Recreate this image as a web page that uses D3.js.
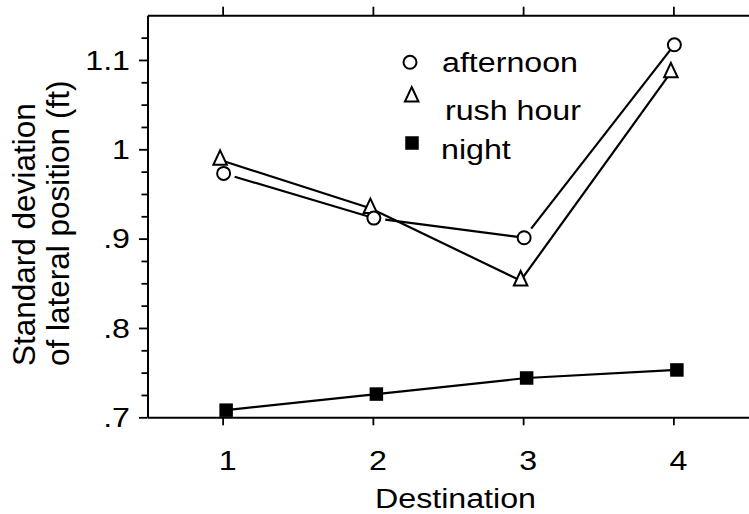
<!DOCTYPE html>
<html>
<head>
<meta charset="utf-8">
<script src="https://cdn.jsdelivr.net/npm/d3@7/dist/d3.min.js"></script>
<style>
  html, body { margin: 0; padding: 0; background: #fff; }
  svg { display: block; }
  text { font-family: "Liberation Sans", Arial, Helvetica, sans-serif; fill: #000; }
</style>
</head>
<body>
<svg id="chart" width="749" height="514"></svg>
<script>
// ---- data ----
const categories = [1, 2, 3, 4];
const xTickLabels = ["1", "2", "3", "4"];
const afternoon = [0.973, 0.923, 0.901, 1.117];
const rushHour  = [0.988, 0.934, 0.853, 1.086];
const night     = [0.708, 0.726, 0.744, 0.753];
const yMajorTicks  = [0.7, 0.8, 0.9, 1.0, 1.1];
const yTickLabels  = [".7", ".8", ".9", "1", "1.1"];
const seriesNames  = ["afternoon", "rush hour", "night"];
const xTitle = "Destination";
const yTitleLines = ["Standard deviation", "of lateral position (ft)"];

// ---- layout ----
const svg = d3.select("#chart");
const x = d3.scaleLinear().domain([0.5, 4.5]).range([147.5, 748.5]);
const y = d3.scaleLinear().domain([0.7, 1.15]).range([417.3, 15.3]);
const SX = 1.15;          // horizontal text stretch seen in the reference
const FS = 28;

// axes
const gB = svg.append("g").attr("transform", `translate(0,${y(0.7)})`)
  .call(d3.axisBottom(x).tickValues(categories).tickSize(8).tickSizeOuter(0).tickFormat(""));
const gT = svg.append("g").attr("transform", `translate(0,${y(1.15)})`)
  .call(d3.axisTop(x).tickValues(categories).tickSize(8.6).tickSizeOuter(0).tickFormat(""));
const minor = d3.range(0.725, 1.14, 0.025).filter(v => !yMajorTicks.some(m => Math.abs(m - v) < 1e-6));
const gLm = svg.append("g").attr("transform", `translate(${x(0.5)},0)`)
  .call(d3.axisLeft(y).tickValues(minor).tickSize(6).tickSizeOuter(0).tickFormat(""));
const gL = svg.append("g").attr("transform", `translate(${x(0.5)},0)`)
  .call(d3.axisLeft(y).tickValues(yMajorTicks).tickSize(8.5).tickSizeOuter(0).tickFormat(""));
svg.selectAll(".domain").attr("stroke", "#000").attr("stroke-width", 2);
svg.selectAll(".tick line").attr("stroke", "#000").attr("stroke-width", 1.8);
gLm.select(".domain").remove();

// y tick labels
svg.append("g").selectAll("text").data(yMajorTicks).join("text")
  .attr("transform", d => `translate(130,${y(d)}) scale(${SX},1)`)
  .attr("text-anchor", "end").attr("dy", "0.35em")
  .style("font-size", FS + "px")
  .text((d, i) => yTickLabels[i]);

// x tick labels
svg.append("g").selectAll("text").data(categories).join("text")
  .attr("transform", d => `translate(${x(d) + 5},470) scale(${SX},1)`)
  .attr("text-anchor", "middle")
  .style("font-size", FS + "px")
  .text((d, i) => xTickLabels[i]);

// x title
svg.append("text")
  .attr("transform", `translate(455.5,508) scale(${SX},1)`)
  .attr("text-anchor", "middle").style("font-size", FS + "px")
  .text(xTitle);

// y title
svg.append("text")
  .attr("transform", "translate(35,366) rotate(-90)")
  .attr("text-anchor", "start").style("font-size", "31.5px")
  .text(yTitleLines[0]);
svg.append("text")
  .attr("transform", "translate(68.5,366) rotate(-90)")
  .attr("text-anchor", "start").style("font-size", "31.5px")
  .text(yTitleLines[1]);

// ---- marks ----
const R = 6.5;
const triW = 13.5, triH = 14.5;
const triPath = `M0,${-triH * 2 / 3}L${triW / 2},${triH / 3}L${-triW / 2},${triH / 3}Z`;
const SQ = 13.5;

function pts(vals, dx) { return categories.map((c, i) => [x(c) + dx, y(vals[i])]); }

function drawSegments(p, gapStart, gapEnd) {
  const g = svg.append("g");
  for (let i = 0; i < p.length - 1; i++) {
    const [x1, y1] = p[i], [x2, y2] = p[i + 1];
    const L = Math.hypot(x2 - x1, y2 - y1), ux = (x2 - x1) / L, uy = (y2 - y1) / L;
    g.append("line")
      .attr("x1", x1 + ux * gapStart).attr("y1", y1 + uy * gapStart)
      .attr("x2", x2 - ux * gapEnd).attr("y2", y2 - uy * gapEnd)
      .attr("stroke", "#000").attr("stroke-width", 2.2);
  }
}

const pA = pts(afternoon, 1);
const pR = pts(rushHour, -2.5);
const pN = pts(night, 3.5);

drawSegments(pN, 0, 0);
drawSegments(pR, 0, 0);
drawSegments(pA, R + 5, R);

svg.append("g").selectAll("rect").data(pN).join("rect")
  .attr("x", d => d[0] - SQ / 2).attr("y", d => d[1] - SQ / 2)
  .attr("width", SQ).attr("height", SQ).attr("fill", "#000");
svg.append("g").selectAll("path").data(pR).join("path")
  .attr("d", triPath).attr("transform", d => `translate(${d[0]},${d[1]})`)
  .attr("fill", "#fff").attr("stroke", "#000").attr("stroke-width", 2);
svg.append("g").selectAll("circle").data(pA).join("circle")
  .attr("cx", d => d[0]).attr("cy", d => d[1]).attr("r", R)
  .attr("fill", "#fff").attr("stroke", "#000").attr("stroke-width", 2);

// ---- legend ----
const lg = svg.append("g");
lg.append("circle").attr("cx", 410).attr("cy", 62.3).attr("r", R)
  .attr("fill", "#fff").attr("stroke", "#000").attr("stroke-width", 2);
lg.append("path").attr("d", triPath).attr("transform", "translate(411.7,96.7)")
  .attr("fill", "#fff").attr("stroke", "#000").attr("stroke-width", 2);
lg.append("rect").attr("x", 412 - SQ / 2).attr("y", 143 - SQ / 2)
  .attr("width", SQ).attr("height", SQ).attr("fill", "#000");
const legendPos = [[442, 71.7], [445, 120], [441, 159]];
lg.selectAll("text.lt").data(seriesNames).join("text").attr("class", "lt")
  .attr("transform", (d, i) => `translate(${legendPos[i][0]},${legendPos[i][1]}) scale(${SX},1)`)
  .style("font-size", FS + "px")
  .text(d => d);
</script>
</body>
</html>
